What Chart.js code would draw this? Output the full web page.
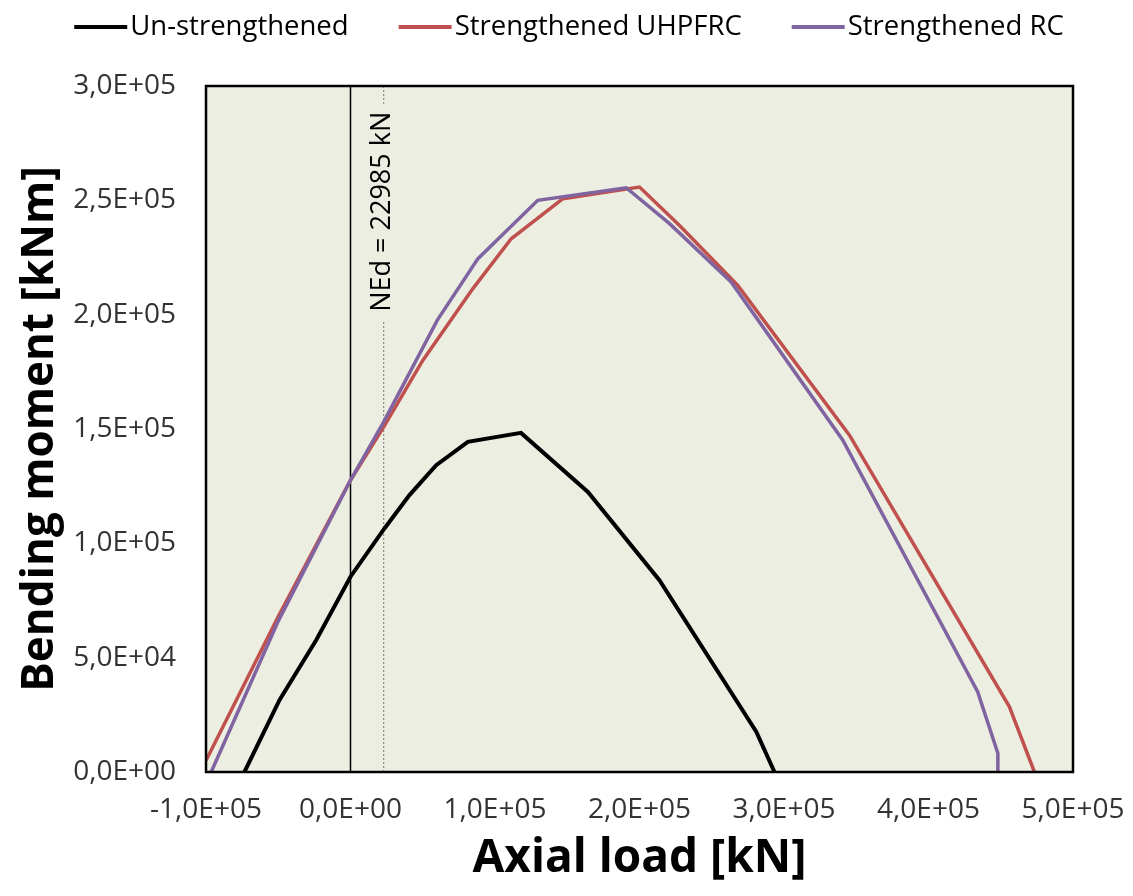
<!DOCTYPE html>
<html>
<head>
<meta charset="utf-8">
<script src="https://cdn.jsdelivr.net/npm/chart.js@4.4.1/dist/chart.umd.min.js"></script>
<style>
  html, body { margin: 0; padding: 0; background: #fff; }
  #wrap { width: 1133px; height: 896px; }
</style>
</head>
<body>
<div id="wrap"><canvas id="miChart"></canvas></div>
<script>
// axial load N [kN] and bending moment M [kNm]
const unN = [-73400, -49100, -23700, 0, 23500, 40800, 59300, 81200, 118000, 164300, 213800, 280800, 293400];
const unM = [0, 31500, 57700, 85400, 106500, 121100, 134200, 144400, 148300, 122500, 83900, 17600, 0];

const uhpN = [-100000, -50000, 0, 23000, 50000, 84700, 111200, 147000, 200000, 227700, 268000, 345300, 456000, 473300];
const uhpM = [5000, 68000, 127600, 150900, 180000, 211400, 233200, 250700, 255800, 239000, 212800, 147300, 28500, 0];

const rcN = [-96400, -50000, 0, 23000, 60000, 88200, 129600, 190800, 220800, 263400, 340700, 434000, 448000, 448000];
const rcM = [0, 66000, 127600, 153100, 197500, 224500, 250000, 255500, 239800, 214300, 145100, 35100, 8200, 0];

const NEd = 22985;
const xTicks = [-100000, 0, 100000, 200000, 300000, 400000, 500000];
const yTicks = [0, 50000, 100000, 150000, 200000, 250000, 300000];

const pts = (xs, ys) => xs.map((x, i) => ({ x: x, y: ys[i] }));

function sci(v) {
  const parts = v.toExponential(1).split('e');
  const exp = parts[1];
  return parts[0].replace('.', ',') + 'E' + exp[0] + exp.slice(1).padStart(2, '0');
}

const BG = '#ebeee0';

const plotBg = {
  id: 'plotBg',
  beforeDatasetsDraw(chart) {
    const a = chart.chartArea, c = chart.ctx;
    c.save();
    c.fillStyle = BG;
    c.fillRect(a.left, a.top, a.right - a.left, a.bottom - a.top);
    c.restore();
  },
  afterDatasetsDraw(chart) {
    const a = chart.chartArea, c = chart.ctx;
    const xs = chart.scales.x, ys = chart.scales.y;
    // NEd label, written over the dotted line
    const px = xs.getPixelForValue(NEd);
    const py = ys.getPixelForValue(245000);
    c.save();
    c.font = '27px "Open Sans"';
    const w = c.measureText('NEd = 22985 kN').width;
    c.fillStyle = BG;
    c.fillRect(px - 15, py - w / 2 - 8, 30, w + 16);
    c.translate(px - 1, py);
    c.rotate(-Math.PI / 2);
    c.fillStyle = '#000';
    c.textAlign = 'center';
    c.textBaseline = 'middle';
    c.fillText('NEd = 22985 kN', 0, 0);
    c.restore();
    c.save();
    c.strokeStyle = '#000';
    c.lineWidth = 2.5;
    c.strokeRect(a.left, a.top, a.right - a.left, a.bottom - a.top);
    c.restore();
  },
  afterDraw(chart) {
    // legend: line sample right up against the text, like the original
    const c = chart.ctx;
    const items = chart.data.datasets.slice(0, 3);
    const sw = 53, gap = 3, itemGap = 50, y = 27;
    c.save();
    c.font = '27.5px "Open Sans"';
    const widths = items.map(d => sw + gap + c.measureText(d.label).width);
    const total = widths.reduce((s, w) => s + w, 0) + itemGap * (items.length - 1);
    let x = 75 + (988 - total) / 2;
    items.forEach((d, i) => {
      c.strokeStyle = d.borderColor;
      c.lineWidth = 4;
      c.beginPath();
      c.moveTo(x, y);
      c.lineTo(x + sw, y);
      c.stroke();
      c.fillStyle = '#000';
      c.textAlign = 'left';
      c.textBaseline = 'middle';
      c.fillText(d.label, x + sw + gap, y);
      x += widths[i] + itemGap;
    });
    c.restore();
  }
};

const ctx = document.getElementById('miChart').getContext('2d');

new Chart(ctx, {
  type: 'scatter',
  data: {
    datasets: [
      {
        label: 'Un-strengthened',
        data: pts(unN, unM),
        showLine: true,
        borderColor: '#000000',
        borderWidth: 4,
        pointRadius: 0,
        order: 0,
      },
      {
        label: 'Strengthened UHPFRC',
        data: pts(uhpN, uhpM),
        showLine: true,
        borderColor: '#c0504d',
        borderWidth: 3.5,
        pointRadius: 0,
        order: 2,
      },
      {
        label: 'Strengthened RC',
        data: pts(rcN, rcM),
        showLine: true,
        borderColor: '#8064a2',
        borderWidth: 3.5,
        pointRadius: 0,
        order: 1,
      },
      {
        label: 'N = 0',
        data: pts([0, 0], [0, 300000]),
        showLine: true,
        borderColor: '#000000',
        borderWidth: 1.5,
        pointRadius: 0,
        order: 5,
      },
      {
        label: 'NEd',
        data: pts([NEd, NEd], [0, 300000]),
        showLine: true,
        borderColor: '#777777',
        borderWidth: 1,
        borderDash: [2, 2],
        pointRadius: 0,
        order: 5,
      }
    ]
  },
  options: {
    responsive: true,
    maintainAspectRatio: false,
    animation: false,
    layout: { padding: { left: 12, right: 60, top: 86, bottom: 8 } },
    plugins: {
      tooltip: { enabled: false },
      legend: { display: false },
    },
    scales: {
      x: {
        type: 'linear',
        min: -100000,
        max: 500000,
        afterBuildTicks: (s) => { s.ticks = xTicks.map(v => ({ value: v })); },
        afterFit: (s) => { s.height = 116; s.paddingLeft = 0; s.paddingRight = 0; },
        ticks: {
          color: '#333',
          font: { family: 'Open Sans', size: 28 },
          callback: (v) => sci(v),
          padding: 13,
          maxRotation: 0,
        },
        grid: { display: false },
        border: { display: false },
        title: {
          display: true,
          text: 'Axial load [kN]',
          color: '#000',
          font: { family: 'Open Sans', size: 46, weight: 'bold' },
          padding: { top: 0, bottom: 2 },
        },
      },
      y: {
        type: 'linear',
        min: 0,
        max: 300000,
        afterBuildTicks: (s) => { s.ticks = yTicks.map(v => ({ value: v })); },
        afterFit: (s) => { s.width = 194; },
        ticks: {
          color: '#333',
          font: { family: 'Open Sans', size: 28 },
          callback: (v) => sci(v),
          padding: 22,
        },
        grid: { display: false },
        border: { display: false },
        title: {
          display: true,
          text: 'Bending moment [kNm]',
          color: '#000',
          font: { family: 'Open Sans', size: 44, weight: 'bold' },
          padding: { top: 2, bottom: 0 },
        },
      }
    }
  },
  plugins: [plotBg]
});
</script>
</body>
</html>
